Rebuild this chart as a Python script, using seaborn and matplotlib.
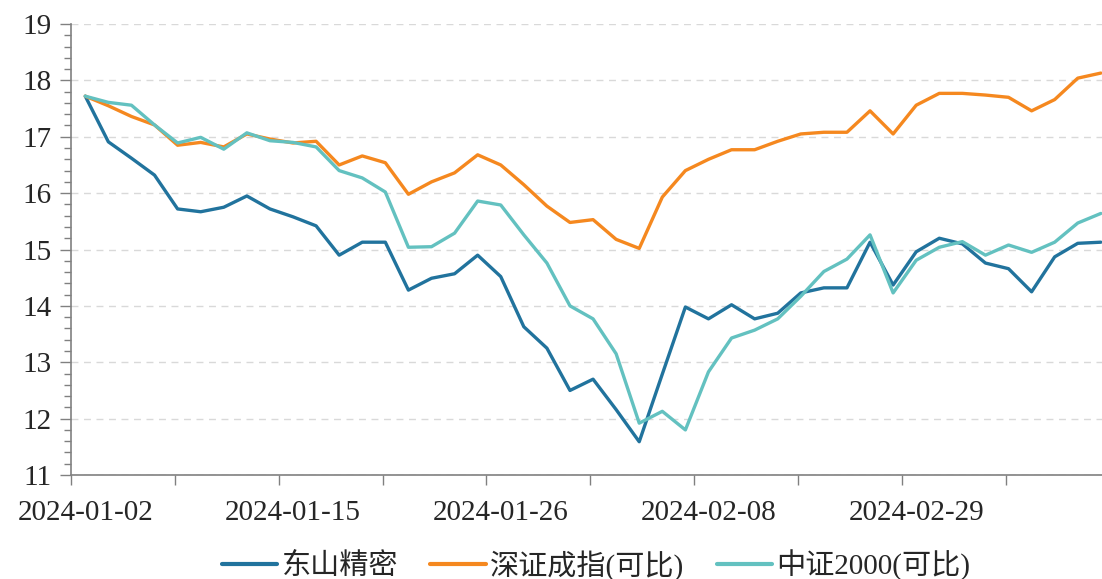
import pandas as pd
import matplotlib
matplotlib.use("Agg")
import matplotlib.pyplot as plt
from matplotlib.ticker import FixedLocator, MultipleLocator
import seaborn as sns

# data (45 trading days from 2024-01-02)
dongshan = [17.72, 16.91, 16.62, 16.32, 15.72, 15.67, 15.75, 15.95, 15.72, 15.58,
            15.42, 14.90, 15.13, 15.13, 14.28, 14.49, 14.57, 14.90, 14.52, 13.63,
            13.25, 12.50, 12.70, 12.16, 11.59, 12.79, 13.98, 13.77, 14.02, 13.77,
            13.87, 14.23, 14.32, 14.32, 15.13, 14.37, 14.96, 15.20, 15.10, 14.76,
            14.66, 14.25, 14.87, 15.11, 15.13]
szcz = [17.72, 17.55, 17.36, 17.21, 16.85, 16.90, 16.82, 17.05, 16.96, 16.89,
        16.92, 16.50, 16.66, 16.54, 15.98, 16.20, 16.36, 16.68, 16.50, 16.15,
        15.77, 15.48, 15.53, 15.18, 15.02, 15.93, 16.40, 16.60, 16.77, 16.77,
        16.92, 17.05, 17.08, 17.08, 17.46, 17.05, 17.56, 17.77, 17.77, 17.74,
        17.70, 17.46, 17.66, 18.04, 18.13]
zz2000 = [17.72, 17.61, 17.56, 17.21, 16.89, 16.99, 16.78, 17.07, 16.93, 16.90,
          16.82, 16.40, 16.27, 16.02, 15.04, 15.05, 15.29, 15.86, 15.79, 15.26,
          14.76, 14.00, 13.77, 13.15, 11.92, 12.13, 11.80, 12.83, 13.43, 13.57,
          13.77, 14.17, 14.61, 14.83, 15.26, 14.23, 14.81, 15.04, 15.14, 14.90,
          15.08, 14.95, 15.13, 15.47, 15.64]

series_names = ["东山精密", "深证成指(可比)", "中证2000(可比)"]
colors = ["#21739d", "#f5881f", "#63c1c0"]
tick_pos = [0, 9, 18, 27, 36]
tick_labels = ["2024-01-02", "2024-01-15", "2024-01-26", "2024-02-08", "2024-02-29"]

frames = []
for name, vals in zip(series_names, [dongshan, szcz, zz2000]):
    frames.append(pd.DataFrame({"idx": range(len(vals)), "value": vals, "series": name}))
df = pd.concat(frames, ignore_index=True)

sns.set_style("white")
plt.rcParams["font.family"] = ["Liberation Serif", "Noto Sans CJK SC"]

fig = plt.figure(figsize=(11.02, 5.79), dpi=100)
ax = fig.add_axes([0.0644, 0.1796, 0.9356, 0.7789])

sns.lineplot(data=df, x="idx", y="value", hue="series", hue_order=series_names,
             palette=colors, linewidth=2.4, ax=ax, legend=False)

ax.set_xlim(-0.62, 44.05)
ax.set_ylim(11, 19)
ax.set_xlabel("")
ax.set_ylabel("")

# y axis
ax.yaxis.set_major_locator(MultipleLocator(1))
ax.yaxis.set_minor_locator(MultipleLocator(0.2))
ax.tick_params(axis="y", which="major", length=8, width=1, color="#808080",
               labelsize=21, pad=6, direction="out", left=True)
ax.tick_params(axis="y", which="minor", length=5, width=1, color="#808080",
               direction="out", left=True)
ax.grid(axis="y", which="major", linestyle=(0, (5, 4)), color="#d9d9d9", linewidth=1)
ax.grid(axis="x", visible=False)

# x axis: labels every 9 days, tick marks between
ax.set_xticks(tick_pos)
ax.set_xticklabels(tick_labels)
ax.xaxis.set_minor_locator(FixedLocator([-0.62 + 4.5 * k for k in range(10)]))
ax.tick_params(axis="x", which="major", length=0, labelsize=21, pad=18)
ax.tick_params(axis="x", which="minor", length=7, width=1, color="#808080",
               direction="out", bottom=True)

for side in ["top", "right"]:
    ax.spines[side].set_visible(False)
for side in ["left", "bottom"]:
    ax.spines[side].set_color("#808080")
    ax.spines[side].set_linewidth(1.2)

handles = [plt.Line2D([0], [0], color=c, linewidth=3) for c in colors]
fig.legend(handles, series_names, loc="lower center", bbox_to_anchor=(0.541, -0.048),
           ncol=3, frameon=False, fontsize=21, handlelength=1.9, handletextpad=0.15,
           columnspacing=1.1)

fig.savefig("out.png", dpi=100)
